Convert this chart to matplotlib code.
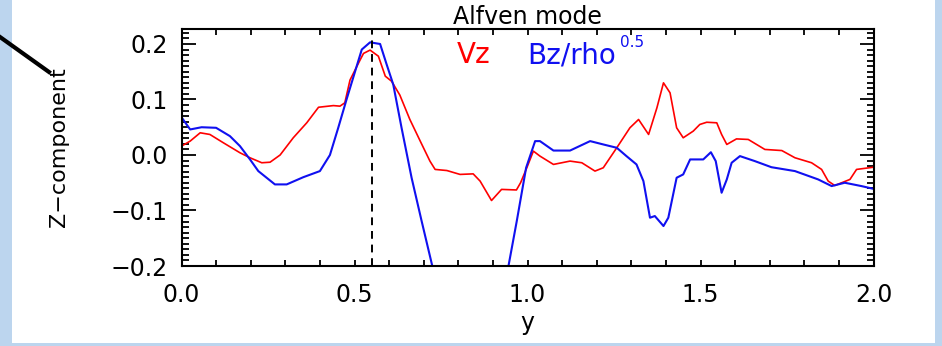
import numpy as np
import matplotlib
matplotlib.use('Agg')
from matplotlib import pyplot as plt
from matplotlib.ticker import MultipleLocator, FuncFormatter
from matplotlib.patches import Rectangle
from matplotlib.lines import Line2D

# Vz (red)
vz_x = [0.0, 0.025, 0.054, 0.082, 0.121, 0.169, 0.198, 0.232, 0.256, 0.285,
        0.323, 0.362, 0.396, 0.439, 0.458, 0.472, 0.487, 0.516, 0.526, 0.545,
        0.569, 0.589, 0.607, 0.631, 0.66, 0.69, 0.718, 0.733, 0.767, 0.805,
        0.843, 0.863, 0.896, 0.925, 0.968, 0.98, 0.998, 1.017, 1.036, 1.075,
        1.123, 1.157, 1.195, 1.219, 1.258, 1.296, 1.321, 1.35, 1.374, 1.393,
        1.412, 1.431, 1.45, 1.479, 1.498, 1.518, 1.547, 1.561, 1.576, 1.604,
        1.638, 1.686, 1.735, 1.773, 1.821, 1.85, 1.869, 1.888, 1.932, 1.951,
        2.0]
vz_y = [0.016, 0.025, 0.040, 0.037, 0.022, 0.004, -0.005, -0.014, -0.013, 0.0,
        0.031, 0.058, 0.086, 0.089, 0.088, 0.094, 0.135, 0.171, 0.183, 0.189,
        0.178, 0.142, 0.133, 0.108, 0.064, 0.025, -0.011, -0.026, -0.028, -0.035,
        -0.034, -0.047, -0.082, -0.062, -0.063, -0.050, -0.023, 0.007, -0.002, -0.017,
        -0.011, -0.014, -0.029, -0.023, 0.013, 0.049, 0.064, 0.037, 0.085, 0.130,
        0.112, 0.049, 0.031, 0.043, 0.055, 0.059, 0.058, 0.037, 0.019, 0.029,
        0.028, 0.010, 0.008, -0.005, -0.014, -0.026, -0.047, -0.055, -0.044, -0.026,
        -0.022]

# Bz/rho^0.5 (blue)
bz_x = [0.0, 0.025, 0.058, 0.1, 0.14, 0.169, 0.198, 0.222, 0.27, 0.304,
        0.352, 0.4, 0.429, 0.453, 0.477, 0.521, 0.545, 0.574, 0.593, 0.612,
        0.636, 0.665, 0.694, 0.726, 0.76, 0.84, 0.92, 0.945, 0.969, 0.996,
        1.022, 1.036, 1.075, 1.123, 1.181, 1.219, 1.258, 1.286, 1.315, 1.335,
        1.354, 1.368, 1.393, 1.407, 1.431, 1.45, 1.47, 1.508, 1.53, 1.544,
        1.561, 1.576, 1.59, 1.614, 1.657, 1.705, 1.773, 1.84, 1.879, 1.917,
        1.965, 2.0]
bz_y = [0.068, 0.046, 0.050, 0.049, 0.034, 0.016, -0.008, -0.029, -0.053, -0.053,
        -0.040, -0.029, 0.0, 0.049, 0.100, 0.190, 0.203, 0.200, 0.163, 0.127,
        0.049, -0.041, -0.119, -0.203, -0.30, -0.45, -0.28, -0.200, -0.119, -0.023,
        0.025, 0.025, 0.008, 0.008, 0.025, 0.019, 0.013, -0.002, -0.017, -0.047,
        -0.113, -0.110, -0.128, -0.113, -0.041, -0.035, -0.008, -0.008, 0.005, -0.011,
        -0.068, -0.044, -0.014, -0.002, -0.011, -0.022, -0.029, -0.044, -0.056, -0.050,
        -0.056, -0.061]

peak_y = 0.55
fs = 17
blue = '#1010f0'

fig = plt.figure(figsize=(9.42, 3.46), dpi=100)
fig.patch.set_facecolor('#bcd5ee')
fig.add_artist(Rectangle((12/942., 3/346.), (935-12)/942., 1.0, transform=fig.transFigure,
                         facecolor='white', edgecolor='none', zorder=0))

ax = fig.add_axes([181.5/942., 80/346., 692/942., 237/346.])
ax.set_facecolor('white')
ax.plot(vz_x, vz_y, color='red', lw=1.2)
ax.plot(bz_x, bz_y, color=blue, lw=1.5)
ax.axvline(peak_y, color='black', ls=(0, (4, 3)), lw=1.4)

ax.set_xlim(0, 2)
ax.set_ylim(-0.2, 0.227)

fmt = FuncFormatter(lambda v, p: ('%.1f' % (0 if abs(v) < 1e-9 else v)).replace('-', '\u2212'))
ax.xaxis.set_major_locator(MultipleLocator(0.5))
ax.xaxis.set_minor_locator(MultipleLocator(0.1))
ax.yaxis.set_major_locator(MultipleLocator(0.1))
ax.yaxis.set_minor_locator(MultipleLocator(0.01))
ax.xaxis.set_major_formatter(fmt)
ax.yaxis.set_major_formatter(fmt)
ax.tick_params(which='both', direction='in', top=True, right=True, width=1.3, labelsize=fs)
ax.tick_params(axis='x', which='both', length=4, pad=12)
ax.tick_params(axis='y', which='major', length=10, pad=10)
ax.tick_params(axis='y', which='minor', length=5)
for s in ax.spines.values():
    s.set_linewidth(1.5)

ax.set_title('Alfven mode', fontsize=17, pad=0)
ax.set_xlabel('y', fontsize=fs)
ax.xaxis.set_label_coords(0.5, -0.19)
ax.set_ylabel('Z\u2212component', fontsize=16)
ax.yaxis.set_label_coords(-0.163, 0.5)

ax.text(0.398, 0.89, 'Vz', color='red', fontsize=20, va='center', transform=ax.transAxes)
bz_txt = ax.text(0.499, 0.89, 'Bz/rho', color=blue, fontsize=20, va='center',
                 transform=ax.transAxes)
ax.annotate('0.5', xy=(1, 1), xycoords=bz_txt, xytext=(3, -1), textcoords='offset points',
            color=blue, fontsize=11, ha='left', va='center')

# pointer line from the slide
fig.add_artist(Line2D([0, 49/942.], [1-37/346., 1-72/346.], color='black', lw=3,
                      transform=fig.transFigure))

fig.savefig('out.png', dpi=100, facecolor=fig.get_facecolor())
